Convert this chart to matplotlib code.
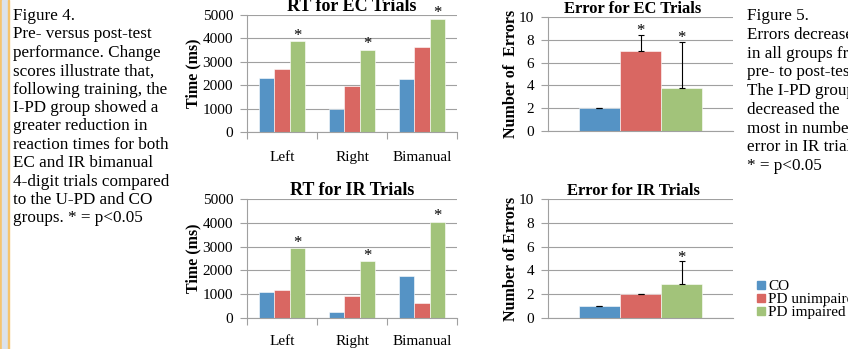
import matplotlib.pyplot as plt
from matplotlib.patches import Rectangle

plt.rcParams['font.family'] = ['Liberation Serif', 'DejaVu Serif']

W, H = 848, 349

groups = ["CO", "PD unimpaired", "PD impaired"]
colors = ["#5593C5", "#D96762", "#A2C37A"]
hands = ["Left", "Right", "Bimanual"]

# reaction times (ms), one list per group, in order Left / Right / Bimanual
rt_ec = {"CO": [2300, 1000, 2270], "PD unimpaired": [2700, 1980, 3620], "PD impaired": [3870, 3520, 4850]}
rt_ir = {"CO": [1100, 250, 1750], "PD unimpaired": [1180, 920, 650], "PD impaired": [2950, 2380, 4050]}
rt_ec_sig = [True, True, True]
rt_ir_sig = [True, True, True]

# number of errors and upper error bar
err_ec = [2.0, 7.0, 3.8]
err_ec_sd = [0.02, 1.4, 4.0]
err_ec_sig = [False, True, True]
err_ir = [1.0, 2.0, 2.85]
err_ir_sd = [0.02, 0.02, 1.9]
err_ir_sig = [False, False, True]

fig = plt.figure(figsize=(W / 100, H / 100), dpi=100)


def ax_at(x0, y_top, x1, y_bot):
    return fig.add_axes([x0 / W, 1 - y_bot / H, (x1 - x0) / W, (y_bot - y_top) / H])


def style(ax, top, step):
    ax.set_ylim(0, top)
    ax.set_yticks(range(0, top + 1, step))
    ax.grid(axis='y', color='#a0a0a0', linewidth=0.8)
    ax.set_axisbelow(True)
    for s in ['top', 'right']:
        ax.spines[s].set_visible(False)
    ax.spines['left'].set_color('#a0a0a0')
    ax.spines['bottom'].set_color('#a0a0a0')
    ax.tick_params(axis='y', colors='#a0a0a0', labelcolor='black', labelsize=11, length=5, width=0.8, pad=5)


bw = 0.222


def rt_chart(ax, data, sig, title, pad):
    for i, g in enumerate(groups):
        xs = [k + (i - 1) * bw for k in range(len(hands))]
        ax.bar(xs, data[g], width=bw, color=colors[i], edgecolor='white', linewidth=0.4, label=g)
    for k, s in enumerate(sig):
        if s:
            ax.text(k + bw, data["PD impaired"][k] - 120, "*", ha='center', va='bottom', fontsize=12)
    style(ax, 5000, 1000)
    ax.set_xlim(-0.5, 2.5)
    ax.set_xticks(range(3))
    ax.set_xticklabels(hands)
    ax.set_xticks([-0.5, 0.5, 1.5, 2.5], minor=True)
    ax.tick_params(axis='x', which='major', length=0, labelsize=11, pad=pad)
    ax.tick_params(axis='x', which='minor', length=5, color='#a0a0a0', width=0.8)
    ax.set_ylabel("Time (ms)", fontsize=11.5, fontweight='bold', labelpad=1)
    ax.set_title(title, fontsize=13, fontweight='bold', pad=2)


def err_chart(ax, vals, sd, sig, title, ylab):
    xs = [(i - 1) * bw for i in range(3)]
    for i in range(3):
        ax.bar(xs[i], vals[i], width=bw, color=colors[i], edgecolor='white', linewidth=0.4)
        ax.errorbar(xs[i], vals[i], yerr=[[0], [sd[i]]], color='black', linewidth=0.8, capsize=2, capthick=0.8)
        if sig[i]:
            ax.text(xs[i], vals[i] + sd[i] - 0.35, "*", ha='center', va='bottom', fontsize=12)
    style(ax, 10, 2)
    ax.set_xlim(-0.5, 0.5)
    ax.set_xticks([])
    ax.set_ylabel(ylab, fontsize=11.5, fontweight='bold', labelpad=0)
    ax.set_title(title, fontsize=12, fontweight='bold', pad=2, x=0.46)


ax1 = ax_at(247, 15, 457, 132)
rt_chart(ax1, rt_ec, rt_ec_sig, "RT for EC Trials", 14)
ax2 = ax_at(247, 199, 457, 318)
rt_chart(ax2, rt_ir, rt_ir_sig, "RT for IR Trials", 12)
ax3 = ax_at(548, 17, 733, 131)
err_chart(ax3, err_ec, err_ec_sd, err_ec_sig, "Error for EC Trials", "Number of  Errors")
ax4 = ax_at(548, 199, 733, 318)
err_chart(ax4, err_ir, err_ir_sd, err_ir_sig, "Error for IR Trials", "Number of Errors")

# side captions
left_text = ["Figure 4.", "Pre- versus post-test", "performance. Change", "scores illustrate that,",
             "following training, the", "I-PD group showed a", "greater reduction in",
             "reaction times for both", "EC and IR bimanual", "4-digit trials compared",
             "to the U-PD and CO", "groups. * = p<0.05"]
right_text = ["Figure 5.", "Errors decreased", "in all groups from", "pre- to post-test.",
              "The I-PD group", "decreased the", "most in number of", "error in IR trials.",
              "* = p<0.05"]
for n, line in enumerate(left_text):
    fig.text(13 / W, 1 - (16 + n * 18.4) / H, line, fontsize=12.3, va='center', ha='left')
for n, line in enumerate(right_text):
    fig.text(747 / W, 1 - (16 + n * 18.75) / H, line, fontsize=12.3, va='center', ha='left')

# legend, drawn by hand for the tight line spacing
for n, (g, c) in enumerate(zip(groups, colors)):
    yc = 285 + n * 13.2
    fig.patches.append(Rectangle((757 / W, 1 - (yc + 4) / H), 8 / W, 8 / H, transform=fig.transFigure, color=c))
    fig.text(768 / W, 1 - (yc + 1) / H, g, fontsize=11, va='center', ha='left')

# decorative strip on the left edge
fig.patches.append(Rectangle((0, 0), 1.5 / W, 1, transform=fig.transFigure, color='#F5C46E', zorder=0))
fig.patches.append(Rectangle((1.5 / W, 0), 6 / W, 1, transform=fig.transFigure, color='#DCE2EA', zorder=0))
fig.patches.append(Rectangle((7.5 / W, 0), 1.5 / W, 1, transform=fig.transFigure, color='#F5C46E', zorder=0))

fig.savefig("out.png", dpi=100)
